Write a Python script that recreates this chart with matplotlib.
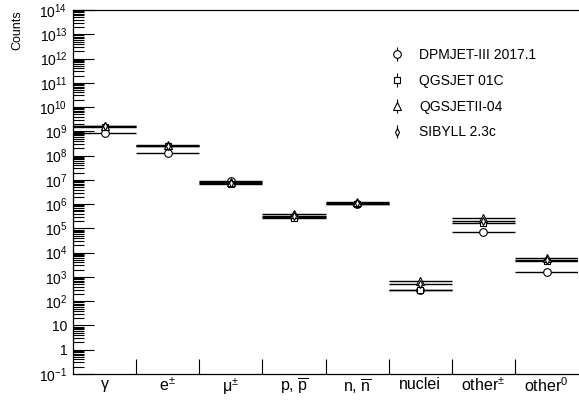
import matplotlib
matplotlib.use("Agg")
import matplotlib.pyplot as plt
import matplotlib.ticker as ticker
import numpy as np

plt.rcParams['font.family'] = ['Liberation Sans', 'DejaVu Sans']
plt.rcParams['mathtext.fontset'] = 'custom'
plt.rcParams['mathtext.rm'] = 'Liberation Sans'
plt.rcParams['mathtext.it'] = 'Liberation Sans:italic'
plt.rcParams['mathtext.bf'] = 'Liberation Sans:bold'

# secondary particle categories
categories = ['γ', r'e$^{\pm}$', r'μ$^{\pm}$', r'p, $\overline{\mathrm{p}}$',
              r'n, $\overline{\mathrm{n}}$', 'nuclei', r'other$^{\pm}$', r'other$^{0}$']

# counts per category for each hadronic interaction model
dpmjet   = [8.5e8, 1.25e8, 9.0e6, 3.0e5, 1.05e6, 2.8e2, 7.4e4, 1.6e3]
qgsjet01 = [1.5e9, 2.5e8, 7.0e6, 2.7e5, 1.0e6, 3.0e2, 1.7e5, 4.5e3]
qgsjet2  = [1.6e9, 2.7e8, 8.0e6, 3.8e5, 1.25e6, 7.0e2, 2.6e5, 6.0e3]
sibyll   = [1.7e9, 2.6e8, 7.5e6, 3.3e5, 1.15e6, 5.0e2, 2.1e5, 5.0e3]

models = [
    ('DPMJET-III 2017.1', dpmjet, 'o', 5.5),
    ('QGSJET 01C', qgsjet01, 's', 5),
    ('QGSJETII-04', qgsjet2, '^', 5.5),
    ('SIBYLL 2.3c', sibyll, 'd', 4),
]

decades = np.arange(-1, 15)
x = np.arange(len(categories)) + 0.5

fig = plt.figure(figsize=(5.79, 4.05), dpi=100)
ax = fig.add_axes([0.1261, 0.0765, 0.8725, 0.8988])

handles = []
for name, vals, mk, ms in models:
    ax.errorbar(x, vals, xerr=0.5, fmt=mk, ms=ms, mfc='white', mec='black',
                mew=0.8, ecolor='black', elinewidth=1.0, capsize=0, zorder=3)
    # legend proxy: marker with a short vertical bar
    h = ax.errorbar([np.nan], [np.nan], yerr=[1], fmt=mk, ms=ms, mfc='white',
                    mec='black', mew=0.8, ecolor='black', elinewidth=0.8,
                    capsize=0, label=name)
    handles.append(h)

ax.set_yscale('log')
ax.set_ylim(1e-1, 1e14)
ax.set_xlim(0, len(categories))


def ylabel_fmt(v, pos):
    e = int(round(np.log10(v)))
    if e == 0:
        return '1'
    if e == 1:
        return '10'
    return r'$10^{%d}$' % e


minor = [m * 10.0 ** d for d in decades[:-1] for m in range(2, 10)]
ax.yaxis.set_major_locator(ticker.FixedLocator(10.0 ** decades))
ax.yaxis.set_minor_locator(ticker.FixedLocator(minor))
ax.yaxis.set_major_formatter(ticker.FuncFormatter(ylabel_fmt))
ax.yaxis.set_minor_formatter(ticker.NullFormatter())
ax.tick_params(axis='y', which='major', direction='in', length=15, width=0.8,
               labelsize=10, pad=4)
ax.tick_params(axis='y', which='minor', direction='in', length=8, width=0.8)

# category labels at bin centres, ticks at bin edges
ax.set_xticks(x)
ax.set_xticklabels(categories)
ax.set_xticks(np.arange(1, len(categories)), minor=True)
ax.xaxis.set_minor_formatter(ticker.NullFormatter())
ax.tick_params(axis='x', which='major', length=0, labelsize=11.5, pad=2)
ax.tick_params(axis='x', which='minor', direction='in', length=11, width=0.8)

for s in ax.spines.values():
    s.set_linewidth(0.9)
ax.spines['right'].set_visible(False)

fig.text(0.03, 0.975, 'Counts', rotation=90, ha='center', va='top', fontsize=9)

leg = ax.legend(handles=handles, loc='upper left', bbox_to_anchor=(0.6, 0.93),
                frameon=False, fontsize=10, handlelength=1.2, handletextpad=1.0,
                labelspacing=0.85)

fig.savefig('out.png', dpi=100)
